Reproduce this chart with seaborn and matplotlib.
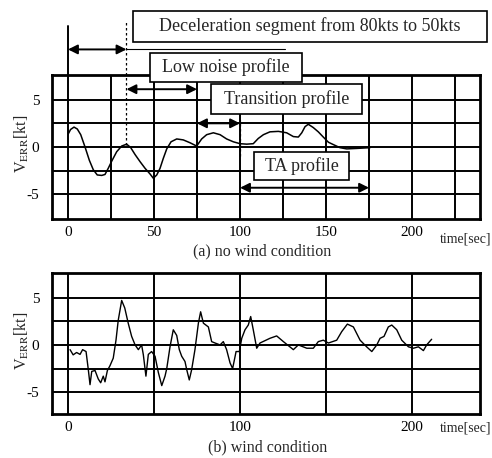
import matplotlib
matplotlib.use("Agg")
import matplotlib.pyplot as plt
from matplotlib.patches import Rectangle
import seaborn as sns
import pandas as pd

# ---------------- data ----------------
# (a) no wind condition
t_a = [0.2, 1.5, 3.5, 5.4, 7.4, 9.9, 12.4, 14.7, 17.0, 19.6, 21.5, 23.4, 25.4, 28.3,
       31.2, 34.1, 36.4, 39.0, 41.9, 44.8, 47.7, 49.6, 51.6, 53.5, 55.4, 57.4, 59.9,
       63.2, 67.0, 70.9, 74.8, 77.7, 80.6, 84.5, 88.4, 92.2, 96.1, 100.0, 103.9,
       107.7, 110.6, 113.6, 117.4, 122.3, 127.1, 131.0, 133.9, 135.9, 137.8, 139.7,
       142.6, 145.5, 148.4, 151.4, 154.3, 158.1, 162.0, 167.8, 175.6]
v_a = [1.4, 1.85, 2.1, 1.9, 1.3, 0.0, -1.4, -2.4, -2.95, -3.0, -2.9, -2.25, -1.5, -0.5,
       0.1, 0.3, -0.05, -0.8, -1.55, -2.25, -2.85, -3.3, -2.95, -2.25, -1.2, -0.2, 0.55,
       0.85, 0.75, 0.45, 0.1, 0.85, 1.3, 1.5, 1.3, 0.85, 0.55, 0.35, 0.3,
       0.35, 0.9, 1.3, 1.6, 1.65, 1.5, 1.1, 1.05, 1.5, 2.15, 2.4,
       2.05, 1.6, 1.05, 0.5, 0.25, -0.07, -0.2, -0.15, -0.07]

# (b) wind condition
t_b = [1.2, 3.0, 5.0, 7.0, 8.5, 10.5, 11.8, 12.8, 13.8, 15.7, 17.6, 19.0, 20.5, 21.5,
       22.9, 24.4, 26.3, 27.9, 29.2, 31.2, 33.0, 35.0, 37.0, 39.0, 40.9, 42.8, 43.8,
       45.3, 46.7, 48.6, 50.6, 52.5, 54.5, 56.4, 57.4, 59.3, 61.2, 63.2, 64.7, 66.1,
       68.0, 69.0, 70.5, 71.9, 73.8, 75.8, 77.1, 78.7, 81.6, 83.5, 85.5, 88.4, 90.3,
       92.2, 94.2, 95.7, 97.7, 99.6, 101.0, 102.9, 104.8, 106.2, 107.7, 109.7, 111.6,
       117.4, 121.3, 125.2, 131.0, 133.9, 138.8, 142.6, 145.5, 148.4, 151.4, 156.2,
       159.1, 162.4, 165.9, 169.8, 173.6, 176.6, 179.5, 181.4, 183.7, 186.2, 188.2,
       191.1, 194.0, 197.9, 200.8, 203.7, 206.6, 208.5, 211.4]
v_b = [-0.5, -1.05, -0.8, -1.0, -0.5, -0.7, -2.6, -4.2, -2.8, -2.7, -3.6, -4.0, -3.3, -3.9,
       -2.7, -2.2, -1.4, 0.5, 2.6, 4.7, 3.9, 2.3, 0.9, 0.0, -0.5, 0.0, -1.05,
       -3.3, -1.0, -0.7, -1.2, -2.9, -4.3, -3.3, -2.5, -0.2, 1.6, 1.0, -0.5, -1.2,
       -1.75, -2.6, -3.7, -2.6, -0.5, 2.3, 3.5, 2.3, 1.9, 0.35, 0.2, 0.0, 0.35,
       -0.5, -1.9, -2.5, -0.7, -0.7, 0.7, 1.6, 2.1, 3.0, 1.6, -0.35, 0.2,
       0.7, 0.95, 0.35, -0.5, 0.0, -0.35, -0.35, 0.35, 0.5, 0.2, 0.5,
       1.4, 2.2, 1.9, 0.5, -0.2, -0.7, 0.0, 0.7, 0.9, 1.9, 2.1,
       1.6, 0.5, -0.2, -0.35, -0.2, -0.6, 0.0, 0.6]

xticks_a = [0, 50, 100, 150, 200]
xticks_b = [0, 100, 200]
yticks = [5, 0, -5]
ytick_labels = ["5", "0", "-5"]
grid_x_a = [0, 25, 50, 75, 100, 125, 150, 175, 200, 225]
grid_x_b = [0, 50, 100, 150, 200]
grid_y = [-5, -2.5, 0, 2.5, 5]

caption_a = "(a) no wind condition"
caption_b = "(b) wind condition"
xlabel = "time[sec]"
ylabel = r"V$_{\mathrm{ERR}}$[kt]"

# profile segments (start, end, level)
seg_decel = (0, 34, 10.3)
seg_lownoise = (34, 75, 6.1)
seg_transition = (75, 100, 2.5)
seg_ta = (100, 175, -4.3)

# ---------------- style ----------------
sns.set_theme(style="white")
plt.rcParams["font.family"] = ["Liberation Serif", "DejaVu Serif"]
plt.rcParams["mathtext.fontset"] = "stix"

W, H = 492, 458
fig = plt.figure(figsize=(W / 100, H / 100), dpi=100)
fig.patch.set_facecolor("white")


def fx(px):
    return px / W


def fy(py):
    return 1 - py / H


ax_a = fig.add_axes([fx(52), fy(219), fx(480) - fx(52), fy(75) - fy(219)])
ax_b = fig.add_axes([fx(52), fy(414), fx(480) - fx(52), fy(273) - fy(414)])

df_a = pd.DataFrame({"t": t_a, "v": v_a})
df_b = pd.DataFrame({"t": t_b, "v": v_b})

sns.lineplot(data=df_a, x="t", y="v", ax=ax_a, color="black", lw=1.1, sort=False, zorder=4)
sns.lineplot(data=df_b, x="t", y="v", ax=ax_b, color="black", lw=1.0, sort=False, zorder=4)

for ax, gx, xt, ylim in [(ax_a, grid_x_a, xticks_a, (-7.6, 7.6)),
                         (ax_b, grid_x_b, xticks_b, (-7.3, 7.6))]:
    ax.set_xlim(-9.3, 239.5)
    ax.set_ylim(*ylim)
    for g in gx:
        ax.axvline(g, color="black", lw=1.4, zorder=2)
    for g in grid_y:
        ax.axhline(g, color="black", lw=1.4, zorder=2)
    ax.set_xticks(xt)
    ax.set_xticklabels([str(v) for v in xt])
    ax.set_yticks(yticks)
    ax.set_yticklabels(ytick_labels)
    ax.tick_params(axis="both", length=0, labelsize=11, colors="black")
    ax.tick_params(axis="x", pad=5)
    ax.tick_params(axis="y", pad=9)
    for s in ax.spines.values():
        s.set_color("black")
        s.set_linewidth(2.0)
    ax.set_xlabel("")
    ax.set_ylabel(ylabel, fontsize=11.5)
    ax.yaxis.set_label_coords(-0.05, 0.52)
    ax.set_facecolor("white")

# time labels and captions
fig.text(fx(466), fy(239), xlabel, ha="center", va="center", fontsize=10)
fig.text(fx(466), fy(428), xlabel, ha="center", va="center", fontsize=10)
fig.text(fx(262), fy(251), caption_a, ha="center", va="center", fontsize=11.5)
fig.text(fx(268), fy(447), caption_b, ha="center", va="center", fontsize=11.5)

# ---------------- annotations (panel a) ----------------
ap = dict(arrowstyle="<|-|>", color="black", lw=1.4, mutation_scale=14,
          shrinkA=0, shrinkB=0, clip_on=False)
for (x0, x1, lev) in [seg_decel, seg_lownoise, seg_transition, seg_ta]:
    ax_a.annotate("", xy=(x1, lev), xytext=(x0, lev), arrowprops=ap,
                  annotation_clip=False, zorder=6)

# guide lines
ax_a.plot([seg_decel[0], seg_decel[0]], [7.6, 12.8], color="black", lw=1.4,
          clip_on=False, zorder=5)
ax_a.plot([seg_decel[1], seg_decel[1]], [0.2, 13.2], color="black", lw=0.9,
          ls=(0, (2, 2)), clip_on=False, zorder=5)
ax_a.plot([seg_decel[1], 126], [seg_decel[2], seg_decel[2]], color="black",
          lw=0.8, clip_on=False, zorder=5)
ax_a.plot([seg_transition[1], seg_transition[1]], [-1.0, 2.8], color="black",
          lw=0.9, ls=(0, (2, 2)), zorder=5)

boxes = [
    ("Deceleration segment from 80kts to 50kts", 133, 11, 487, 42, 13),
    ("Low noise profile", 150, 53, 302, 82, 13),
    ("Transition profile", 211, 84, 362, 114, 13),
    ("TA profile", 254, 152, 349, 180, 13),
]
for txt, x0, y0, x1, y1, fs in boxes:
    r = Rectangle((fx(x0), fy(y1)), fx(x1) - fx(x0), fy(y0) - fy(y1),
                  transform=fig.transFigure, facecolor="white", edgecolor="black",
                  lw=1.2, zorder=10)
    fig.add_artist(r)
    fig.text(fx((x0 + x1) / 2), fy((y0 + y1) / 2), txt, ha="center", va="center",
             fontsize=fs, zorder=11)

fig.savefig("out.png", dpi=100, facecolor="white")
